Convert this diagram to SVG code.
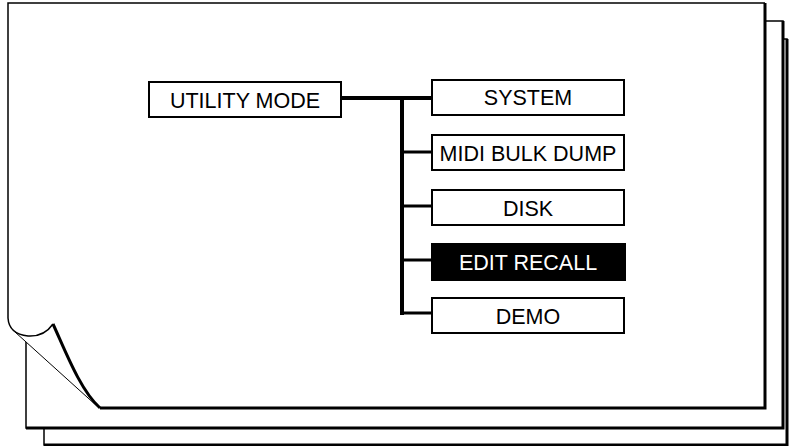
<svg xmlns="http://www.w3.org/2000/svg" width="790" height="446" viewBox="0 0 790 446">
<style>
.page{fill:#fff;stroke:#000;stroke-width:1.5}
.thick{fill:none;stroke:#000;stroke-width:3}
.thin{fill:none;stroke:#000;stroke-width:1.5}
.box rect{fill:#fff;stroke:#000;stroke-width:2}
.box text{font-family:"Liberation Sans",Arial,sans-serif;font-size:21.5px;text-anchor:middle;fill:#000}
.box.inv rect{fill:#000}
.box.inv text{fill:#fff}
.conn{stroke:#000;fill:none}
</style>
<g id="pages">
<rect class="page" x="44" y="39" width="743" height="406"/>
<path class="thick" d="M787,39 V445 H44"/>
<rect class="page" x="26" y="21" width="757" height="407"/>
<path class="thick" d="M783,21 V428 H26"/>
<path d="M8,3 H765 V408 H100 L98,407 L15,332 Q9,328 8,318 Z" fill="#fff"/>
<path class="thin" d="M8,318 V3 H765"/>
<path class="thick" d="M765,3 V408 H100"/>
<path class="thin" d="M8,318 Q9,334 28,336 Q44,337 53,324"/>
<path class="thick" d="M53,324 C65,350 80,390 100,408"/>
<path fill="none" stroke="#000" stroke-width="1" d="M15,332 L98,407"/>
</g>
<g id="connectors" class="conn">
<path stroke-width="4" d="M341,98 H432 M402,96 V315"/>
<path stroke-width="3" d="M402,152 H432 M402,206 H432 M402,260 H432 M402,313 H432"/>
</g>
<g id="utility-mode" class="box"><rect x="149" y="82" width="192" height="35"/><text x="245" y="107.5">UTILITY MODE</text></g>
<g id="system" class="box"><rect x="432" y="80" width="192" height="35"/><text x="528" y="105">SYSTEM</text></g>
<g id="midi-bulk-dump" class="box"><rect x="432" y="135" width="192" height="35"/><text x="528" y="160.5">MIDI BULK DUMP</text></g>
<g id="disk" class="box"><rect x="432" y="190" width="192" height="35"/><text x="528" y="215.5">DISK</text></g>
<g id="edit-recall" class="box inv"><rect x="432" y="244" width="193" height="36"/><text x="528" y="270">EDIT RECALL</text></g>
<g id="demo" class="box"><rect x="432" y="298" width="192" height="35"/><text x="528" y="323.5">DEMO</text></g>
</svg>
